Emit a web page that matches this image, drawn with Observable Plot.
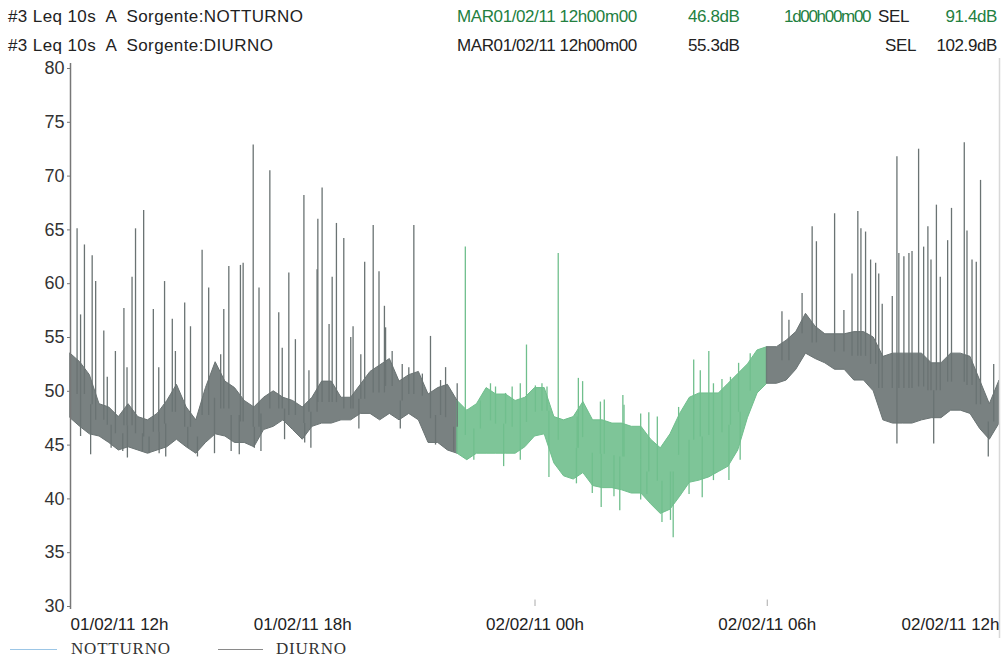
<!DOCTYPE html>
<html>
<head>
<meta charset="utf-8">
<script src="https://cdn.jsdelivr.net/npm/d3@7"></script>
<script src="https://cdn.jsdelivr.net/npm/@observablehq/plot@0.6"></script>
<style>
  html, body { margin: 0; padding: 0; background: #fff; }
  body { width: 1003px; height: 657px; position: relative; overflow: hidden;
         font-family: "Liberation Sans", Arial, sans-serif; color: #222; }
  .row span { position: absolute; font-size: 17px; white-space: pre; letter-spacing: -0.4px; }
  .g { color: #23803f; }
  #chart { position: absolute; left: 0; top: 58px; }
  .leg { position: absolute; top: 639px; font-family: "Liberation Serif", "Times New Roman", serif;
         font-size: 17px; white-space: pre; color: #333; letter-spacing: 0.8px; }
  .legline { position: absolute; top: 649px; height: 0; }
</style>
</head>
<body>
<div class="row" id="r1"></div>
<div class="row" id="r2"></div>
<div id="chart"></div>
<div class="legline" style="left:10px;width:47px;border-top:1px solid #9cc6e6"></div>
<div class="leg" style="left:71px">NOTTURNO</div>
<div class="legline" style="left:218px;width:45px;border-top:1px solid #8a8a8a"></div>
<div class="leg" style="left:276px">DIURNO</div>
<script>
// ---------- header texts ----------
const riga1 = ["#3 Leq 10s  A  Sorgente:NOTTURNO", "MAR01/02/11 12h00m00", "46.8dB", "1d00h00m00", "SEL", "91.4dB"];
const riga2 = ["#3 Leq 10s  A  Sorgente:DIURNO", "MAR01/02/11 12h00m00", "55.3dB", "", "SEL", "102.9dB"];

// ---------- data (hours after 01/02/11 12h, dB) ----------
// dense band of the 10 s Leq trace, sampled every 15 minutes: upper and lower edge
const ore = d3.range(0, 24.01, 0.25);
const bandaAlta = [
  53.5, 52.7, 51.5, 48.8, 48.5, 47.6, 48.8, 47.6, 47.3, 47.9, 49.1, 50.6,
  48.5, 47.3, 50.3, 52.7, 50.9, 50.3, 49.1, 48.5, 49.4, 50.0, 49.4, 49.1,
  48.5, 49.4, 50.9, 50.9, 49.4, 49.4, 50.6, 51.8, 52.4, 53.0, 50.9, 51.5,
  51.8, 49.7, 50.3, 50.6, 49.1, 48.2, 48.8, 50.3, 49.7, 49.7, 49.1, 49.4,
  50.3, 50.3, 47.6, 47.3, 47.6, 49.0, 47.3, 47.3, 47.0, 47.0, 46.7, 46.7,
  45.5, 44.7, 46.0, 47.9, 49.4, 49.8, 49.8, 49.8, 50.7, 51.6, 52.5, 53.8,
  54.1, 54.1, 54.7, 55.5, 57.2, 56.0, 55.3, 55.3, 55.3, 55.5, 55.5, 55.0,
  53.2, 53.5, 53.5, 53.5, 53.5, 52.6, 52.6, 53.5, 53.5, 53.2, 51.0, 48.8,
  51.0
];
const bandaBassa = [
  47.5, 46.7, 46.0, 45.8, 45.2, 44.5, 44.8, 44.5, 44.2, 44.5, 44.8, 45.5,
  44.8, 44.2, 45.2, 46.0, 45.8, 45.2, 45.2, 44.8, 46.4, 46.7, 47.3, 46.4,
  45.5, 46.7, 47.0, 47.0, 47.3, 47.3, 47.9, 47.9, 47.3, 47.9, 47.3, 47.9,
  47.3, 45.2, 45.2, 44.5, 44.2, 43.6, 44.2, 44.2, 44.2, 44.2, 44.2, 44.8,
  45.8, 46.0, 43.3, 42.1, 41.8, 42.4, 41.2, 41.0, 41.0, 40.8, 40.5, 40.5,
  39.5, 38.6, 39.0, 40.2, 41.5, 41.7, 42.0, 42.5, 43.0, 44.5, 47.5, 49.8,
  50.7, 50.7, 51.0, 52.0, 53.5, 53.0, 52.6, 52.0, 52.0, 51.0, 51.0, 50.0,
  47.3, 47.0, 47.0, 47.0, 47.3, 47.5, 47.5, 48.2, 48.2, 47.9, 46.5, 45.5,
  47.0
];
// isolated peaks above the band
const piccoOre = [
  0.17, 0.26, 0.36, 0.56, 0.65, 0.86, 0.95, 1.16, 1.38, 1.46, 1.59, 1.68, 1.89,
  2.14, 2.28, 2.43, 2.63, 2.71, 2.95, 3.10, 3.40, 3.57, 3.88, 3.96, 4.09, 4.39,
  4.46, 4.72, 4.87, 5.15, 5.38, 5.47, 5.64, 5.81, 6.03, 6.16, 6.37, 6.39, 6.50,
  6.68, 6.76, 6.87, 7.06, 7.24, 7.30, 7.50, 7.60, 7.82, 7.97, 8.11, 8.14, 8.31,
  8.57, 8.74, 8.87, 9.09, 9.30, 9.56, 9.69, 9.99,
  10.20, 10.59, 10.85, 10.98, 11.24, 11.41, 11.62, 11.78, 12.01, 12.18, 12.31, 12.60,
  13.09, 13.12, 13.23, 13.69, 13.79, 14.27, 14.30, 14.73, 14.94, 15.16, 15.71,
  16.10, 16.27, 16.49, 16.61, 16.83, 17.05, 17.26, 17.56,
  18.38, 18.56, 18.90, 19.16, 19.27, 19.74, 19.98, 20.19, 20.34, 20.42, 20.54,
  20.67, 20.80, 20.88, 20.97, 21.23, 21.35, 21.40, 21.53, 21.66, 21.74, 21.91,
  22.04, 22.15, 22.23, 22.37, 22.47, 22.66, 22.76, 23.09, 23.16, 23.29, 23.40,
  23.51, 23.85
];
const piccoVal = [
  65.1, 57.1, 63.6, 62.6, 60.2, 55.6, 51.3, 53.7, 57.7, 52.2, 60.6, 65.1, 66.8,
  57.6, 52.2, 60.2, 56.7, 53.7, 58.2, 56.0, 63.1, 59.6, 53.4, 57.6, 61.6, 61.7,
  61.9, 72.9, 59.6, 70.5, 57.3, 54.0, 61.0, 54.8, 68.2, 51.9, 61.3, 66.0, 68.9,
  56.2, 60.6, 65.6, 64.2, 55.0, 56.0, 53.4, 62.0, 65.4, 61.1, 57.9, 55.9, 53.7,
  52.5, 52.2, 65.4, 51.6, 55.1, 51.0, 52.2, 50.7,
  63.4, 49.1, 50.7, 50.4, 49.8, 50.4, 50.7, 54.3, 50.5, 50.7, 50.4, 62.8,
  47.6, 51.2, 50.9, 49.0, 49.2, 49.6, 48.7, 47.9, 48.0, 47.6, 48.5,
  52.9, 51.9, 53.7, 50.7, 51.1, 51.3, 52.6, 53.5,
  57.4, 56.6, 59.1, 65.3, 63.9, 66.5, 57.5, 60.9, 66.7, 65.1, 64.8,
  62.2, 61.9, 60.9, 58.1, 58.8, 71.8, 62.8, 62.5, 62.8, 63.0, 72.5,
  63.4, 65.3, 62.2, 67.3, 60.6, 64.0, 67.0, 73.1, 64.9, 62.2, 62.0,
  69.6, 52.5
];
// isolated drops below the band
const minOre = [0.26, 0.52, 1.05, 1.35, 1.47, 1.86, 2.03, 2.29, 2.46, 3.03, 3.28, 3.72, 4.15,
  4.36, 4.75, 4.92, 5.53, 6.05, 6.21, 7.45, 8.52, 9.43, 9.90,
  10.42, 11.19, 11.62, 12.36, 13.07, 13.48, 13.71, 14.04, 14.19, 14.73, 14.89, 15.28,
  15.50, 15.57, 15.98, 16.32, 16.61, 17.01, 17.30,
  21.35, 22.30, 23.71];
const minVal = [45.8, 44.1, 44.7, 44.4, 43.8, 44.4, 44.2, 44.2, 43.9, 44.7, 43.9, 44.2, 44.4,
  44.1, 44.7, 44.4, 45.5, 45.2, 44.7, 46.5, 46.5, 45.0, 44.4,
  43.6, 43.0, 43.6, 42.0, 41.4, 40.5, 39.2, 40.2, 38.9, 39.9, 40.4, 37.8,
  38.0, 36.4, 40.4, 40.1, 41.7, 41.7, 43.6,
  45.1, 45.1, 43.9];
const tickOre = [0, 6, 12, 18, 24];

// ---------- build ----------
const t0 = Date.UTC(2011, 1, 1, 12);
const data = h => new Date(t0 + h * 3600e3);
const notte = h => h >= 10 && h <= 18;
const GRIGIO = "#6a7373", VERDE = "#70bf8d";

const banda = ore.map((h, i) => ({h, t: data(h), alta: bandaAlta[i], bassa: bandaBassa[i]}));
const seg = [
  {rows: banda.filter(d => d.h <= 10), col: GRIGIO},
  {rows: banda.filter(d => d.h >= 10 && d.h <= 18), col: VERDE},
  {rows: banda.filter(d => d.h >= 18), col: GRIGIO}
];
const centro = h => { const b = banda[Math.round(h * 4)]; return (b.alta + b.bassa) / 2; };
const picchi = piccoOre.map((h, i) => ({t: data(h), base: centro(h), v: piccoVal[i], col: notte(h) ? VERDE : GRIGIO}));
const minimi = minOre.map((h, i) => ({t: data(h), base: centro(h), v: minVal[i], col: notte(h) ? VERDE : GRIGIO}));

const fmt = d3.utcFormat("%d/%m/%y %Hh");
const marks = [];
for (const s of seg) {
  marks.push(Plot.areaY(s.rows, {x: "t", y1: "bassa", y2: "alta", fill: s.col, fillOpacity: 0.9, stroke: s.col, strokeWidth: 1}));
}
marks.push(
  Plot.ruleX(picchi, {x: "t", y1: "base", y2: "v", stroke: "col", strokeWidth: 1.3}),
  Plot.ruleX(minimi, {x: "t", y1: "base", y2: "v", stroke: "col", strokeWidth: 1.3}),
  Plot.ruleX([data(0)], {stroke: "#777", strokeWidth: 1.5, insetTop: -5, insetBottom: -3}),
  Plot.ruleX([data(24)], {stroke: "#d8d8d8", strokeWidth: 1.5, insetTop: -30, insetBottom: -40}),
  Plot.ruleX([data(12), data(18)], {y1: 30, y2: 30.6, stroke: "#aaa"}),
  Plot.axisY({ticks: d3.range(30, 81, 5), tickSize: 3, tickPadding: 3, fontSize: 18, stroke: "#777", fill: "#333", label: null}),
  Plot.axisX([data(0)], {tickSize: 0, tickPadding: 11, textAnchor: "start", tickFormat: fmt, fontSize: 17, fill: "#222", label: null}),
  Plot.axisX(tickOre.slice(1, 4).map(data), {tickSize: 0, tickPadding: 11, tickFormat: fmt, fontSize: 17, fill: "#222", label: null}),
  Plot.axisX([data(24)], {tickSize: 0, tickPadding: 11, textAnchor: "end", tickFormat: fmt, fontSize: 17, fill: "#222", label: null})
);

const plot = Plot.plot({
  width: 1003, height: 580,
  marginLeft: 70, marginRight: 4, marginTop: 10, marginBottom: 32,
  x: {type: "utc", domain: [data(0), data(24)]},
  y: {domain: [30, 80]},
  style: {fontFamily: "'Liberation Sans', Arial, sans-serif", background: "#fff"},
  marks
});
document.getElementById("chart").appendChild(plot);

// header rows
function riga(el, testi, top, verde) {
  testi.forEach((s, i) => {
    if (!s) return;
    const sp = document.createElement("span");
    sp.textContent = s;
    sp.style.top = top + "px";
    if (i === 0) { sp.style.left = "8px"; sp.style.letterSpacing = "0.4px"; }
    else if (i === 1) sp.style.left = "457px";
    else if (i === 2) sp.style.left = "688px";
    else if (i === 3) { sp.style.left = "784px"; sp.style.letterSpacing = "-1.3px"; }
    else if (i === 4) sp.style.left = (verde ? 878 : 885) + "px";
    else sp.style.right = "6px";
    if (verde && i !== 0 && i !== 4) sp.className = "g";
    el.appendChild(sp);
  });
}
riga(document.getElementById("r1"), riga1, 7, true);
riga(document.getElementById("r2"), riga2, 36, false);
</script>
</body>
</html>
